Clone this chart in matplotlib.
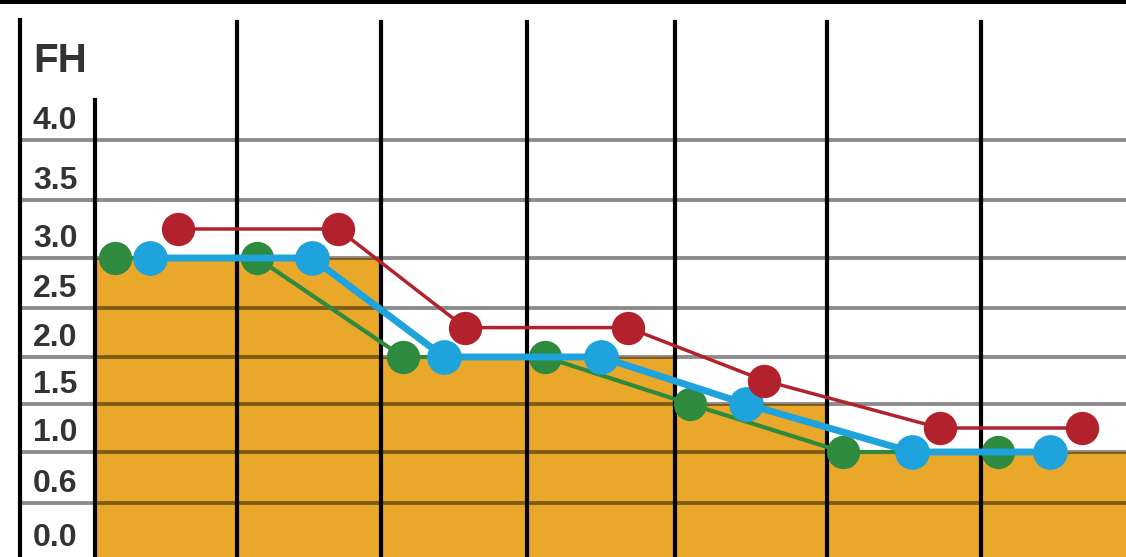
import matplotlib
matplotlib.use("Agg")
import matplotlib.pyplot as plt
import numpy as np

# FH values per station (x in section units)
green_x = [0.20, 1.62, 3.08, 4.50, 5.95, 7.48, 9.03]
green_y = [3.0, 3.0, 2.0, 2.0, 1.5, 1.0, 1.0]
blue_x = [0.55, 2.17, 3.49, 5.06, 6.51, 8.17, 9.55]
blue_y = [3.0, 3.0, 2.0, 2.0, 1.5, 1.0, 1.0]
red_x = [0.83, 2.43, 3.70, 5.33, 6.69, 8.45, 9.87]
red_y = [3.25, 3.25, 2.3, 2.3, 1.75, 1.25, 1.25]

# orange step (baseline level)
step_edges = [0.0, 2.86, 5.80, 7.32, 10.31]
step_levels = [3.0, 2.0, 1.5, 1.0]

# section dividers
sections = [1.42, 2.86, 4.32, 5.80, 7.32, 8.86]

tick_vals = [0.0, 0.6, 1.0, 1.5, 2.0, 2.5, 3.0, 3.5, 4.0]
tick_labels = ["0.0", "0.6", "1.0", "1.5", "2.0", "2.5", "3.0", "3.5", "4.0"]

# uneven row spacing of the printed scale
scale_vals = [-1.0] + tick_vals + [6.0]
scale_pos = [-100, 0, 62, 113, 161, 208, 257, 307, 365, 425, 665]


def fwd(v):
    return np.interp(v, scale_vals, scale_pos)


def inv(h):
    return np.interp(h, scale_pos, scale_vals)


plt.rcParams["font.family"] = ["Liberation Sans", "DejaVu Sans"]

fig = plt.figure(figsize=(11.26, 5.57), dpi=100)
ax = fig.add_axes([0, 0, 1, 1])
ax.set_yscale("function", functions=(fwd, inv))
ax.set_xlim(-0.95, 10.31)
ax.set_ylim(inv(565 - 557), inv(565))

orange = "#eaa82b"
ax.fill_between(step_edges, [step_levels[0]] + step_levels, 0,
                step="pre", color=orange, lw=0, zorder=1)

# horizontal grid through label column and plot
for v in tick_vals:
    ax.axhline(v, xmin=0.0177, color="black", alpha=0.45, lw=2.8, zorder=2)

top_frac = 1 - 22 / 557
for s in sections:
    ax.axvline(s, ymax=top_frac, color="black", lw=3, zorder=2.5)
ax.axvline(0, ymax=1 - 100 / 557, color="black", lw=3, zorder=2.5)
ax.axvline(-0.75, ymax=1 - 20 / 557, color="black", lw=3, zorder=2.5)

ax.plot(green_x, green_y, "-o", color="#2e8a3e", lw=3, ms=24, mew=0, zorder=4)
ax.plot(blue_x, blue_y, "-o", color="#1fa3dc", lw=5, ms=25, mew=0, zorder=5)
ax.plot(red_x, red_y, "-o", color="#b2212c", lw=2.5, ms=24, mew=0, zorder=6)

for v, lab in zip(tick_vals, tick_labels):
    # bottom label sits a little higher so it stays inside the picture
    dy = 14 if v == 0.0 else 8
    ax.annotate(lab, xy=(-0.62, v), xytext=(0, dy), textcoords="offset points",
                ha="left", va="baseline", fontsize=23, weight="bold",
                color="#333333", annotation_clip=False)

ax.text(-0.62, inv(565 - 72), "FH", ha="left", va="baseline",
        fontsize=29, weight="bold", color="#333333")

for side in ["left", "right", "bottom"]:
    ax.spines[side].set_visible(False)
ax.spines["top"].set_linewidth(5)
ax.set_xticks([])
ax.set_yticks([])
ax.minorticks_off()

plt.savefig("out.png", dpi=100)
plt.close()
